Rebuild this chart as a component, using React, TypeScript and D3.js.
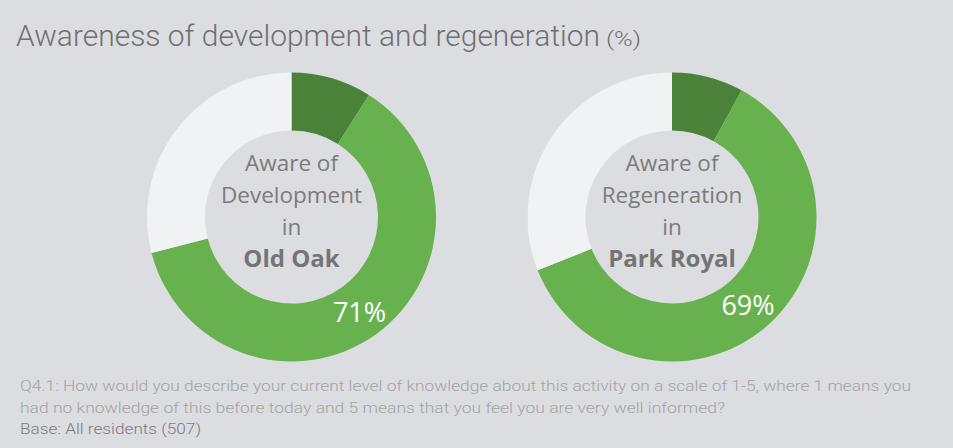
import React from "react";
import * as d3 from "d3";

const W = 953;
const H = 448;

const titleMain = "Awareness of development and regeneration";
const titleUnit = "(%)";

const segmentNames = ["Very / fairly well informed", "Aware (other)", "Not aware"];
const segmentColors = ["#4b823a", "#68b14f", "#f1f2f4"];

const donutIds = ["oldOak", "parkRoyal"];
const donutLines = [
  ["Aware of", "Development", "in"],
  ["Aware of", "Regeneration", "in"],
];
const donutPlaces = ["Old Oak", "Park Royal"];
const oldOakValues = [9, 62, 29];
const parkRoyalValues = [8, 61, 31];
const awareTotals = [71, 69];

const footLines = [
  "Q4.1: How would you describe your current level of knowledge about this activity on a scale of 1-5, where 1 means you",
  "had no knowledge of this before today and 5 means that you feel you are very well informed?",
];
const baseLine = "Base: All residents (507)";

const seriesValues = [oldOakValues, parkRoyalValues];

export default function App() {
  const centers = d3.scalePoint<string>().domain(donutIds).range([291.5, 672]);
  const outerR = 144.5;
  const innerR = 86.5;
  const cy = 217;
  const pie = d3.pie<number>().sort(null).value((d) => d);
  const arc = d3.arc<d3.PieArcDatum<number>>().innerRadius(innerR).outerRadius(outerR);
  const labelOffsets = [
    { dx: 68, dy: 105 },
    { dx: 76, dy: 98 },
  ];
  const fontMain = "'Open Sans', 'Noto Sans', sans-serif";
  const fontLight = "Roboto, 'Open Sans', sans-serif";
  return (
    <svg width={W} height={H} style={{ position: "absolute", left: 0, top: 0 }}>
      <rect x={0} y={0} width={W} height={H} fill="#dcdde0" />
      <text x={16} y={46} fontFamily={fontLight} fontWeight={300} fontSize={29} fill="#707070">
        <tspan textLength={584} lengthAdjust="spacingAndGlyphs">{titleMain}</tspan>
      </text>
      <text x={606} y={46} fontFamily={fontLight} fontWeight={300} fontSize={21} fill="#707070"
        textLength={35} lengthAdjust="spacingAndGlyphs">{titleUnit}</text>
      {donutIds.map((id, i) => {
        const cx = centers(id)!;
        const arcs = pie(seriesValues[i]);
        return (
          <g key={id} transform={`translate(${cx},${cy})`}>
            {arcs.map((a, j) => (
              <path key={segmentNames[j]} d={arc(a)!} fill={segmentColors[j]} />
            ))}
            {donutLines[i].map((ln, k) => (
              <text key={k} x={0} y={-46.5 + k * 32} textAnchor="middle" fontFamily={fontMain}
                fontSize={22.5} fill="#7b7b7b">{ln}</text>
            ))}
            <text x={0} y={50} textAnchor="middle" fontFamily={fontMain} fontWeight={700}
              fontSize={24} fill="#747474">{donutPlaces[i]}</text>
            <text x={labelOffsets[i].dx} y={labelOffsets[i].dy} textAnchor="middle" fontFamily={fontMain}
              fontSize={27} fill="#ffffff">{awareTotals[i]}%</text>
          </g>
        );
      })}
      {footLines.map((ln, i) => (
        <text key={i} x={20} y={391 + i * 21.5} fontFamily={fontLight} fontWeight={300} fontSize={15}
          fill="#a3a3a3" textLength={i === 0 ? 891 : 705} lengthAdjust="spacingAndGlyphs">{ln}</text>
      ))}
      <text x={20} y={434} fontFamily={fontLight} fontWeight={300} fontSize={15} fill="#7a7a7a"
        textLength={181} lengthAdjust="spacingAndGlyphs">{baseLine}</text>
    </svg>
  );
}
